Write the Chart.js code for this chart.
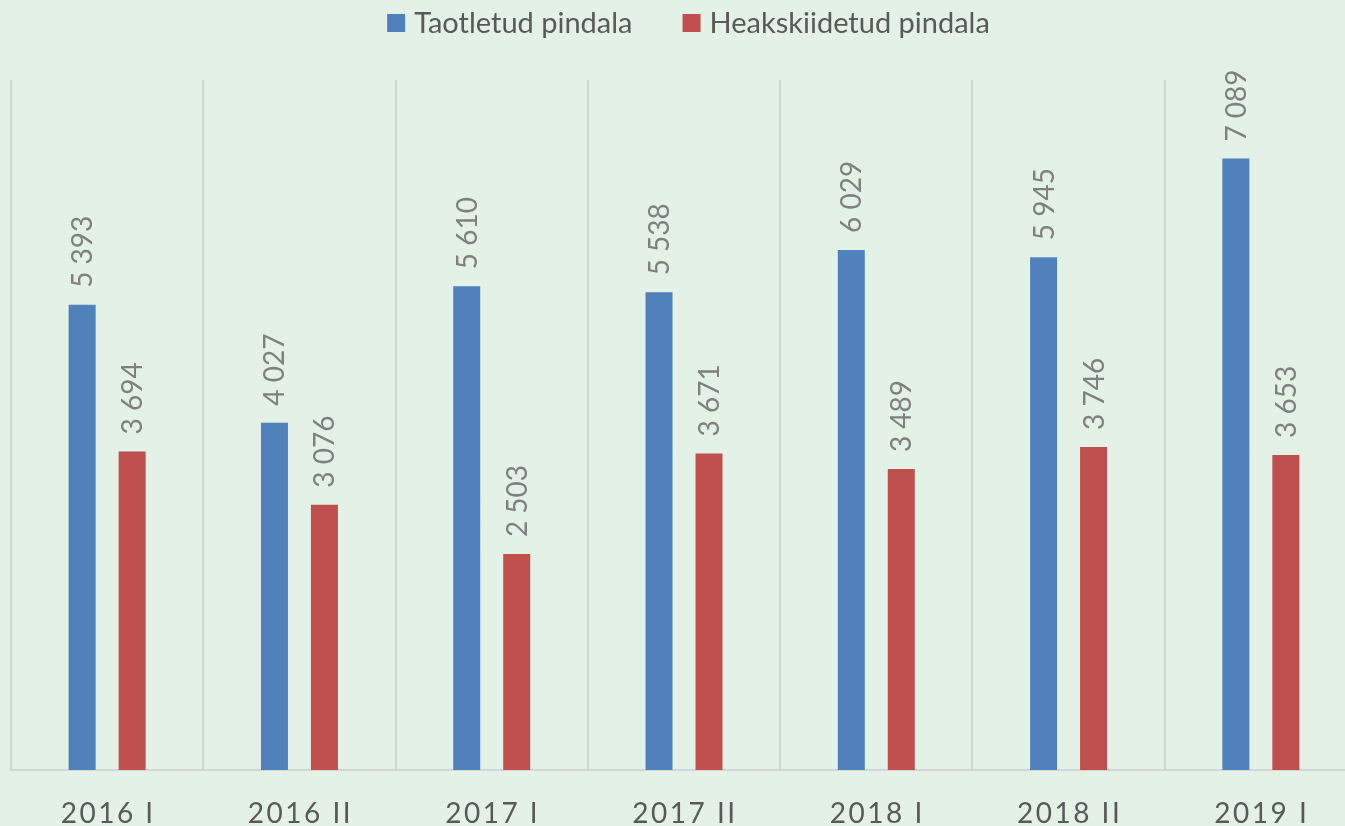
<!DOCTYPE html>
<html>
<head>
<meta charset="utf-8">
<script src="https://cdn.jsdelivr.net/npm/chart.js@4"></script>
<style>
  html, body { margin: 0; padding: 0; background: #E4F1E7; overflow: hidden; width: 1345px; height: 826px; }
  #wrap { position: absolute; left: 0; top: 0; width: 1360px; height: 826px; }
</style>
</head>
<body>
<div id="wrap"><canvas id="c" width="1360" height="826"></canvas></div>
<script>
const categories = ['2016 I', '2016 II', '2017 I', '2017 II', '2018 I', '2018 II', '2019 I'];
const seriesNames = ['Taotletud pindala', 'Heakskiidetud pindala'];
const appliedArea = [5393, 4027, 5610, 5538, 6029, 5945, 7089];
const approvedArea = [3694, 3076, 2503, 3671, 3489, 3746, 3653];
const yMax = 8000;

const FONT = 'Lato, "Noto Sans", sans-serif';
function fmt(n) { return String(n).replace(/\B(?=(\d{3})+(?!\d))/g, ' '); }

const customDraw = {
  id: 'customDraw',
  afterDatasetsDraw(chart) {
    const ctx = chart.ctx;
    ctx.save();
    ctx.font = '28px ' + FONT;
    ctx.fillStyle = '#808080';
    ctx.textAlign = 'left';
    ctx.textBaseline = 'alphabetic';
    chart.data.datasets.forEach((ds, di) => {
      const meta = chart.getDatasetMeta(di);
      meta.data.forEach((bar, i) => {
        ctx.save();
        ctx.translate(bar.x + 10, bar.y - 17);
        ctx.rotate(-Math.PI / 2);
        ctx.fillText(fmt(ds.data[i]), 0, 0);
        ctx.restore();
      });
    });
    ctx.restore();
  },
  afterDraw(chart) {
    const ctx = chart.ctx;
    const xs = chart.scales.x;
    // category labels
    ctx.save();
    ctx.font = '28px ' + FONT;
    ctx.fillStyle = '#595959';
    ctx.textAlign = 'center';
    ctx.textBaseline = 'alphabetic';
    if ('letterSpacing' in ctx) ctx.letterSpacing = '2.5px';
    chart.data.labels.forEach((lab, i) => {
      ctx.fillText(lab, xs.getPixelForValue(i) + 1, 823);
    });
    ctx.restore();
    // legend
    ctx.save();
    ctx.font = '29px ' + FONT;
    ctx.textBaseline = 'alphabetic';
    ctx.textAlign = 'left';
    const box = 18, gap = 9, spacing = 50;
    const ws = chart.data.datasets.map(d => ctx.measureText(d.label).width);
    const total = ws.reduce((a, w) => a + box + gap + w, 0) + spacing * (ws.length - 1);
    let x = 688.5 - total / 2;
    chart.data.datasets.forEach((d, i) => {
      ctx.fillStyle = d.backgroundColor;
      ctx.fillRect(x, 14, box, box);
      ctx.fillStyle = '#595959';
      ctx.fillText(d.label, x + box + gap, 33);
      x += box + gap + ws[i] + spacing;
    });
    ctx.restore();
  }
};

new Chart(document.getElementById('c'), {
  type: 'bar',
  data: {
    labels: categories,
    datasets: [
      { label: seriesNames[0], data: appliedArea, backgroundColor: '#4F81BD' },
      { label: seriesNames[1], data: approvedArea, backgroundColor: '#C0504D' }
    ]
  },
  options: {
    responsive: false,
    animation: false,
    devicePixelRatio: 1,
    layout: { padding: { top: 80, left: 11, right: 3, bottom: 56 } },
    datasets: { bar: { categoryPercentage: 0.52, barPercentage: 0.54 } },
    plugins: { legend: { display: false }, tooltip: { enabled: false } },
    scales: {
      x: {
        grid: { display: true, offset: true, color: '#D4D4D4', lineWidth: 2, drawTicks: false },
        border: { display: true, color: '#D4D4D4', width: 2 },
        ticks: { display: false },
        afterFit(s) { s.height = 0; }
      },
      y: {
        display: false,
        min: 0,
        max: yMax
      }
    }
  },
  plugins: [customDraw]
});
</script>
</body>
</html>
